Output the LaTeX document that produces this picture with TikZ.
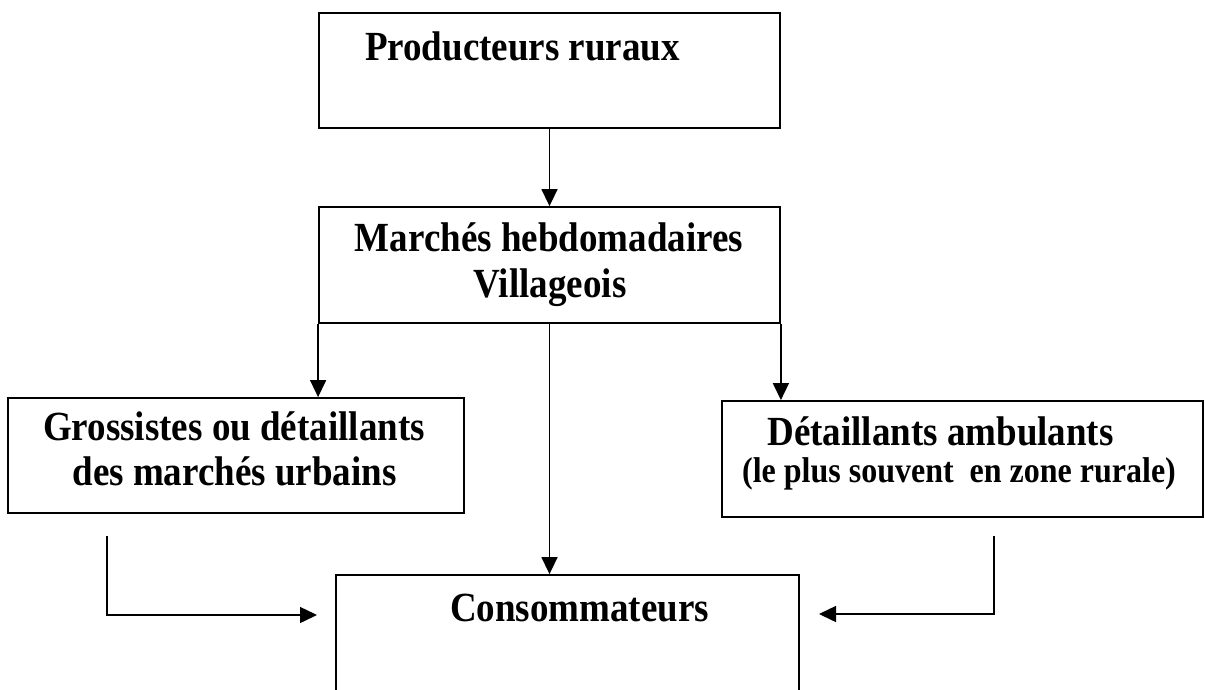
\documentclass[tikz,border=0pt]{standalone}
\usepackage{graphicx}
\usepackage{fontspec}
\setmainfont{Liberation Serif}
\usetikzlibrary{arrows.meta,calc}
\newcommand{\tallline}[1]{\scalebox{1}[1.12]{#1}}
\begin{document}
\begin{tikzpicture}[x=1pt,y=-1pt,
  box/.style={draw, line width=1.8pt, rectangle, inner sep=0pt},
  conn/.style={line width=1.5pt, -{Triangle[length=17pt,width=16pt]}},
  bigtxt/.style={font=\bfseries\fontsize{37}{44}\selectfont, anchor=base, inner sep=0pt},
  smalltxt/.style={font=\bfseries\fontsize{32}{38}\selectfont, anchor=base, inner sep=0pt}]
\useasboundingbox (0,0) rectangle (1205,689);
\clip (0,0) rectangle (1205,689);
\fill[white] (0,0) rectangle (1205,689);
% boxes
\node[box, minimum width=461pt, minimum height=115pt] (prod) at (549.5,70.5) {};
\node[box, minimum width=461pt, minimum height=116pt] (mkt) at (549.5,265) {};
\node[box, minimum width=456pt, minimum height=115pt] (gros) at (236,455.5) {};
\node[box, minimum width=481pt, minimum height=116pt] (det) at (962.5,459) {};
\node[box, minimum width=463pt, minimum height=185pt] (cons) at (567.5,667.5) {};
% texts
\node[bigtxt] (t1) at (522.5,60) {\tallline{Producteurs ruraux}};
\node[bigtxt] (t2a) at (549,251) {\tallline{Marchés hebdomadaires}};
\node[bigtxt] (t2b) at (550,297) {\tallline{Villageois}};
\node[bigtxt] (t3a) at (234,440) {\tallline{Grossistes ou détaillants}};
\node[bigtxt] (t3b) at (234.5,485) {\tallline{des marchés urbains}};
\node[bigtxt] (t4a) at (940.5,445) {\tallline{Détaillants ambulants}};
\node[smalltxt] (t4b) at (959,482) {\tallline{(le plus souvent\ \ en zone rurale)}};
\node[bigtxt] (t5) at (579.5,621) {\tallline{Consommateurs}};
% connectors
\draw[conn] (prod.south) -- (mkt.north);
\draw[conn] (mkt.south west) -- (gros.north -| mkt.south west);
\draw[conn] (mkt.south) -- (cons.north -| mkt.south);
\draw[conn] (mkt.south east) -- (det.north -| mkt.south east);
\coordinate (s1) at (107,536);
\coordinate (e1) at (317,615);
\draw[conn] (s1) |- (e1);
\coordinate (s2) at (994,536);
\coordinate (e2) at (819,614);
\draw[conn] (s2) |- (e2);
\end{tikzpicture}
\end{document}
